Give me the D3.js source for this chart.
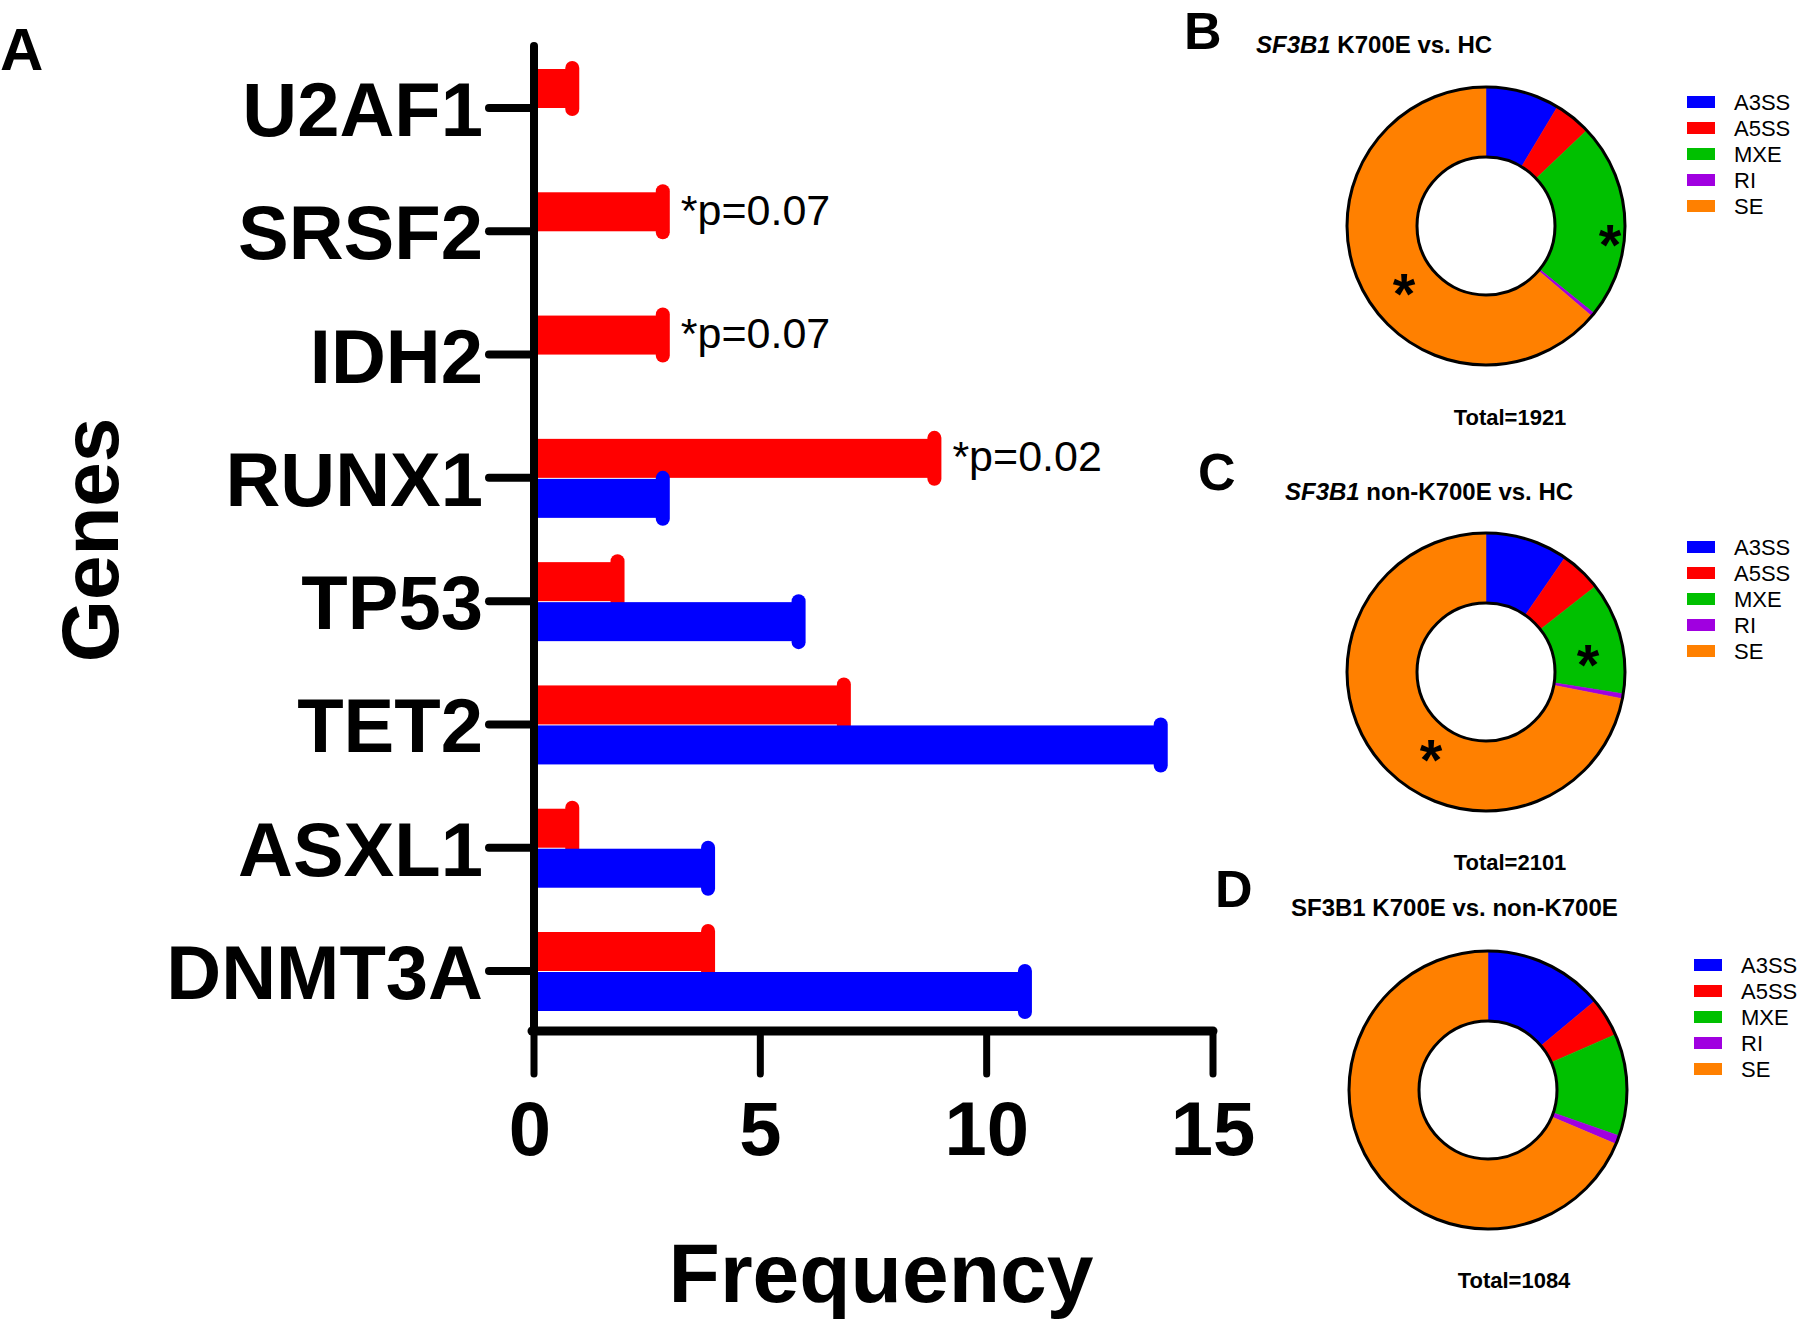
<!DOCTYPE html>
<html>
<head>
<meta charset="utf-8">
<script src="https://cdn.jsdelivr.net/npm/d3@7"></script>
<style>
  html, body { margin: 0; padding: 0; background: #fff; }
  svg text { font-family: "Liberation Sans", Arial, sans-serif; }
</style>
</head>
<body>
<svg id="chart" width="1800" height="1320"></svg>
<script>
// ---------- DATA ----------
const genes = ["U2AF1", "SRSF2", "IDH2", "RUNX1", "TP53", "TET2", "ASXL1", "DNMT3A"];
const redValues = [1, 3, 3, 9, 2, 7, 1, 4];
const blueValues = [0, 0, 0, 3, 6, 14, 4, 11];
const pLabels = ["", "*p=0.07", "*p=0.07", "*p=0.02", "", "", "", ""];
const xTicks = [0, 5, 10, 15];

const spliceTypes = ["A3SS", "A5SS", "MXE", "RI", "SE"];
const countsB = [165, 83, 440, 8, 1225];
const countsC = [202, 101, 275, 12, 1511];
const countsD = [151, 49, 129, 11, 744];
const totals = ["Total=1921", "Total=2101", "Total=1084"];
const starsB = ["MXE", "SE"];
const starsC = ["MXE", "SE"];
const starsD = [];

// ---------- SETUP ----------
const svg = d3.select("#chart");
const RED = "#FF0000", BLUE = "#0000FF";
const spliceColor = d3.scaleOrdinal().domain(spliceTypes)
  .range(["#0000FF", "#FF0000", "#00C000", "#A000E0", "#FF8000"]);

// ---------- PANEL A ----------
const x = d3.scaleLinear().domain([0, 15]).range([534, 1213]);
const y = d3.scalePoint().domain(genes).range([108, 971]);
const barH = 39;
const capW = 14;

const gA = svg.append("g");

// bars
genes.forEach((g, i) => {
  const yc = y(g);
  const drawBar = (val, top, color) => {
    if (!val) return;
    const xe = x(val) - capW / 2;
    gA.append("rect")
      .attr("x", x(0)).attr("y", top)
      .attr("width", xe - x(0)).attr("height", barH)
      .attr("fill", color);
    gA.append("line")
      .attr("x1", xe).attr("x2", xe)
      .attr("y1", top - 1).attr("y2", top + barH + 1)
      .attr("stroke", color).attr("stroke-width", capW)
      .attr("stroke-linecap", "round");
  };
  drawBar(redValues[i], yc - barH, RED);
  drawBar(blueValues[i], yc + 1, BLUE);
  if (pLabels[i]) {
    gA.append("text")
      .attr("x", x(redValues[i]) + 11)
      .attr("y", yc - barH / 2 + 13)
      .attr("font-size", 43)
      .attr("fill", "#000")
      .text(pLabels[i]);
  }
});

// y axis
gA.append("line")
  .attr("x1", x(0)).attr("x2", x(0)).attr("y1", 46).attr("y2", 1031)
  .attr("stroke", "#000").attr("stroke-width", 8).attr("stroke-linecap", "round");
// y ticks & labels
genes.forEach(g => {
  gA.append("line")
    .attr("x1", 489).attr("x2", x(0)).attr("y1", y(g)).attr("y2", y(g))
    .attr("stroke", "#000").attr("stroke-width", 8).attr("stroke-linecap", "round");
  gA.append("text")
    .attr("x", 483).attr("y", y(g) + 28)
    .attr("text-anchor", "end")
    .attr("font-size", 76).attr("font-weight", "bold")
    .text(g);
});

// x axis
gA.append("line")
  .attr("x1", x(0) - 2).attr("x2", x(15)).attr("y1", 1031).attr("y2", 1031)
  .attr("stroke", "#000").attr("stroke-width", 9).attr("stroke-linecap", "round");
xTicks.forEach(t => {
  gA.append("line")
    .attr("x1", x(t)).attr("x2", x(t)).attr("y1", 1031).attr("y2", 1074)
    .attr("stroke", "#000").attr("stroke-width", 7).attr("stroke-linecap", "round");
  gA.append("text")
    .attr("x", x(t) - (t === 0 ? 4 : 0)).attr("y", 1155)
    .attr("text-anchor", "middle")
    .attr("font-size", 76).attr("font-weight", "bold")
    .text(t);
});

// axis titles
gA.append("text")
  .attr("x", 881).attr("y", 1302)
  .attr("text-anchor", "middle")
  .attr("font-size", 84).attr("font-weight", "bold")
  .text("Frequency");
gA.append("text")
  .attr("transform", "translate(118,540) rotate(-90)")
  .attr("text-anchor", "middle")
  .attr("font-size", 80).attr("font-weight", "bold")
  .text("Genes");

// panel letter A
svg.append("text").attr("x", 0).attr("y", 70)
  .attr("font-size", 60).attr("font-weight", "bold").text("A");

// ---------- DONUTS ----------
const pie = d3.pie().sort(null);
const R = 139, r = 69;
const arc = d3.arc().innerRadius(r).outerRadius(R);

function donut(cfg) {
  const g = svg.append("g").attr("transform", `translate(${cfg.cx},${cfg.cy})`);
  const arcs = pie(cfg.counts);
  g.selectAll("path.seg").data(arcs).enter().append("path")
    .attr("class", "seg")
    .attr("d", arc)
    .attr("fill", (d, i) => spliceColor(spliceTypes[i]))
    .attr("stroke", (d, i) => spliceColor(spliceTypes[i]))
    .attr("stroke-width", 0.5);
  g.append("circle").attr("r", R).attr("fill", "none").attr("stroke", "#000").attr("stroke-width", 3);
  g.append("circle").attr("r", r).attr("fill", "#fff").attr("stroke", "#000").attr("stroke-width", 3);
  cfg.stars.forEach(s => {
    const p = cfg.starPos[s];
    g.append("text")
      .attr("x", p[0]).attr("y", p[1] + 32)
      .attr("text-anchor", "middle")
      .attr("font-size", 58).attr("font-weight", "bold")
      .text("*");
  });
  // legend
  const lg = svg.append("g").attr("transform", `translate(${cfg.lx},${cfg.ly})`);
  spliceTypes.forEach((t, i) => {
    lg.append("rect").attr("x", 0).attr("y", i * 26 - 6).attr("width", 28).attr("height", 12)
      .attr("fill", spliceColor(t));
    lg.append("text").attr("x", 47).attr("y", i * 26 + 8)
      .attr("font-size", 22).text(t);
  });
  // title
  const tt = svg.append("text").attr("x", cfg.tx).attr("y", cfg.ty)
    .attr("font-size", 24).attr("font-weight", "bold");
  cfg.title.forEach(part => {
    tt.append("tspan").attr("font-style", part[1] ? "italic" : "normal").text(part[0]);
  });
  // letter
  svg.append("text").attr("x", cfg.letterX).attr("y", cfg.letterY)
    .attr("font-size", 52).attr("font-weight", "bold").text(cfg.letter);
  // total
  svg.append("text").attr("x", cfg.totX).attr("y", cfg.totY)
    .attr("text-anchor", "middle")
    .attr("font-size", 22).attr("font-weight", "bold").text(cfg.total);
}

donut({
  cx: 1486, cy: 226, counts: countsB, stars: starsB,
  starPos: { MXE: [124, 7], SE: [-82, 56] },
  lx: 1687, ly: 102,
  tx: 1256, ty: 53, title: [["SF3B1", true], [" K700E vs. HC", false]],
  letter: "B", letterX: 1184, letterY: 49,
  total: totals[0], totX: 1510, totY: 425
});
donut({
  cx: 1486, cy: 672, counts: countsC, stars: starsC,
  starPos: { MXE: [102, -19], SE: [-55, 76] },
  lx: 1687, ly: 547,
  tx: 1285, ty: 500, title: [["SF3B1", true], [" non-K700E vs. HC", false]],
  letter: "C", letterX: 1198, letterY: 490,
  total: totals[1], totX: 1510, totY: 870
});
donut({
  cx: 1488, cy: 1090, counts: countsD, stars: starsD,
  starPos: {},
  lx: 1694, ly: 965,
  tx: 1291, ty: 916, title: [["SF3B1 K700E vs. non-K700E", false]],
  letter: "D", letterX: 1215, letterY: 907,
  total: totals[2], totX: 1514, totY: 1288
});
</script>
</body>
</html>
